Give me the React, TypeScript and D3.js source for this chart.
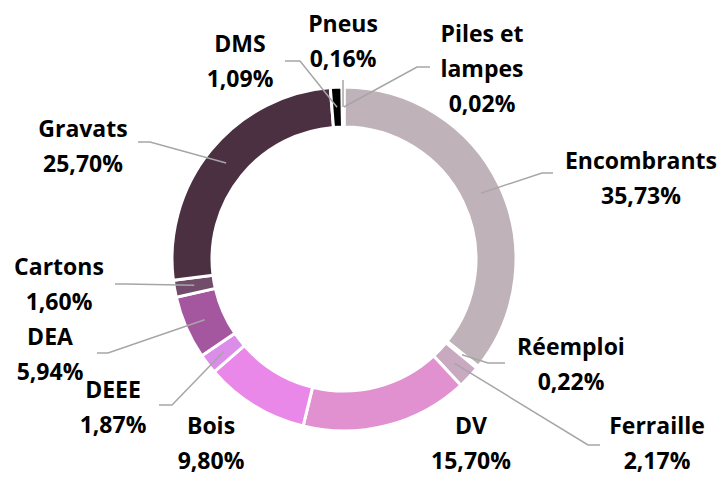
import { useEffect } from "react";
import * as d3 from "d3";

const categories = [
  "Encombrants",
  "Réemploi",
  "Ferraille",
  "DV",
  "Bois",
  "DEEE",
  "DEA",
  "Cartons",
  "Gravats",
  "DMS",
  "Pneus",
  "Piles et lampes",
];
const shares = [35.73, 0.22, 2.17, 15.7, 9.8, 1.87, 5.94, 1.6, 25.7, 1.09, 0.16, 0.02];
const labelLines = [
  ["Encombrants"],
  ["Réemploi"],
  ["Ferraille"],
  ["DV"],
  ["Bois"],
  ["DEEE"],
  ["DEA"],
  ["Cartons"],
  ["Gravats"],
  ["DMS"],
  ["Pneus"],
  ["Piles et", "lampes"],
];
const sliceColors = [
  "#bfb2b9",
  "#c4b0bc",
  "#c9a9c0",
  "#e190d0",
  "#ea88e9",
  "#dc8ce9",
  "#a4579f",
  "#714c6b",
  "#4a3040",
  "#000000",
  "#2a1a24",
  "#bfb2b9",
];

// label placement (text centre x, first baseline y) and leader elbow / end points
const labelLayout: { x: number; y: number; leader?: [number, number][] }[] = [
  { x: 641, y: 169, leader: [[542, 173], [553, 173]] },
  { x: 571, y: 355, leader: [[488, 363], [505, 363]] },
  { x: 657, y: 434, leader: [[588, 445], [600, 445]] },
  { x: 471, y: 434 },
  { x: 211, y: 434 },
  { x: 113, y: 398, leader: [[172, 405], [159, 405]] },
  { x: 50, y: 345, leader: [[108, 353], [97, 353]] },
  { x: 59, y: 275, leader: [[125, 284], [115, 284]] },
  { x: 83, y: 137, leader: [[150, 142], [138, 142]] },
  { x: 240, y: 52, leader: [[300, 61], [285, 61]] },
  { x: 343, y: 32, leader: [[343, 80]] },
  { x: 482, y: 42, leader: [[417, 67], [430, 67]] },
];

const width = 724;
const height = 477;
const cx = 344;
const cy = 259;
const outerR = 172;
const innerR = 132;
const lineGap = 35;

export default function App() {
  useEffect(() => {
    document.body.style.margin = "0";
  }, []);

  const data = categories.map((c, i) => ({ name: c, value: shares[i], i }));
  const pie = d3
    .pie<{ name: string; value: number; i: number }>()
    .value((d) => d.value)
    .sort(null);
  const arcs = pie(data);
  const arc = d3
    .arc<d3.PieArcDatum<{ name: string; value: number; i: number }>>()
    .innerRadius(innerR)
    .outerRadius(outerR);

  const fmt = (v: number) => v.toFixed(2).replace(".", ",") + "%";

  return (
    <svg width={width} height={height} style={{ display: "block" }}>
      <rect width={width} height={height} fill="#fff" />
      <g transform={`translate(${cx},${cy})`}>
        {arcs.map((a) => (
          <path
            key={a.data.name}
            d={arc(a)!}
            fill={sliceColors[a.data.i]}
            stroke="#fff"
            strokeWidth={3}
          />
        ))}
      </g>
      {arcs.map((a) => {
        const lay = labelLayout[a.data.i];
        if (!lay.leader) return null;
        const [mx, my] = arc.centroid(a);
        const pts: [number, number][] = [[cx + mx, cy + my], ...lay.leader];
        return (
          <path
            key={"l" + a.data.name}
            d={d3.line()(pts)!}
            fill="none"
            stroke="#a6a6a6"
            strokeWidth={1.5}
          />
        );
      })}
      {arcs.map((a) => {
        const lay = labelLayout[a.data.i];
        const lines = [...labelLines[a.data.i], fmt(a.data.value)];
        return (
          <text
            key={"t" + a.data.name}
            textAnchor="middle"
            fontFamily="'Open Sans', sans-serif"
            fontWeight={700}
            fontSize={23}
            fill="#000"
          >
            {lines.map((s, k) => (
              <tspan key={k} x={lay.x} y={lay.y + k * lineGap}>
                {s}
              </tspan>
            ))}
          </text>
        );
      })}
    </svg>
  );
}
